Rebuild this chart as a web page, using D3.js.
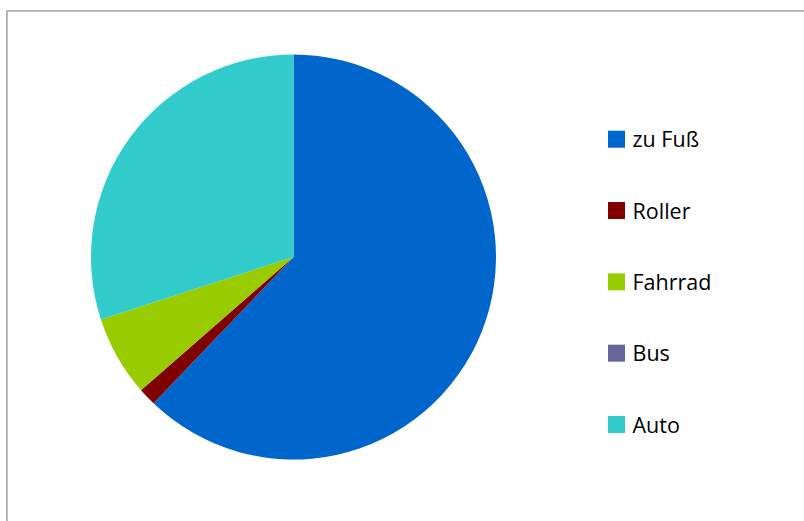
<!DOCTYPE html>
<html>
<head>
<meta charset="utf-8">
<script src="https://cdn.jsdelivr.net/npm/d3@7"></script>
<style>
  html, body { margin: 0; padding: 0; background: #fff; }
  svg { display: block; }
</style>
</head>
<body>
<div id="chart"></div>
<script>
// Verkehrsmittel - Anteile
const categories = ['zu Fuß', 'Roller', 'Fahrrad', 'Bus', 'Auto'];
const values = [87, 2, 9, 0, 42];
const colors = ['#0066cc', '#800000', '#99cc00', '#666699', '#33cccc'];

const width = 804, height = 521;
const cx = 293.5, cy = 257, radius = 202.5;

const svg = d3.select('#chart')
  .append('svg')
  .attr('width', width)
  .attr('height', height)
  .attr('viewBox', `0 0 ${width} ${height}`);

// Chart frame (runs off the right and bottom edge)
svg.append('rect')
  .attr('x', 7)
  .attr('y', 11)
  .attr('width', width + 20)
  .attr('height', height + 20)
  .attr('fill', '#fff')
  .attr('stroke', '#929292')
  .attr('stroke-width', 1.3);

const data = categories.map((c, i) => ({ name: c, value: values[i] }));

const color = d3.scaleOrdinal()
  .domain(categories)
  .range(colors);

const pie = d3.pie()
  .value(d => d.value)
  .sort(null);

const arc = d3.arc()
  .innerRadius(0)
  .outerRadius(radius);

const g = svg.append('g')
  .attr('transform', `translate(${cx},${cy})`);

g.selectAll('path')
  .data(pie(data))
  .enter()
  .append('path')
  .attr('d', arc)
  .attr('fill', d => color(d.data.name));

// Legend
const legendY = d3.scalePoint()
  .domain(categories)
  .range([139.2, 424.5]);

const legend = svg.append('g')
  .selectAll('g')
  .data(categories)
  .enter()
  .append('g')
  .attr('transform', d => `translate(608,${legendY(d)})`);

legend.append('rect')
  .attr('x', 0)
  .attr('y', -8.5)
  .attr('width', 17)
  .attr('height', 17)
  .attr('fill', d => color(d));

legend.append('text')
  .attr('x', 24.5)
  .attr('y', 8)
  .style('font-family', '"Open Sans", "Noto Sans", sans-serif')
  .style('font-size', '21.5px')
  .style('fill', '#000')
  .text(d => d);
</script>
</body>
</html>
